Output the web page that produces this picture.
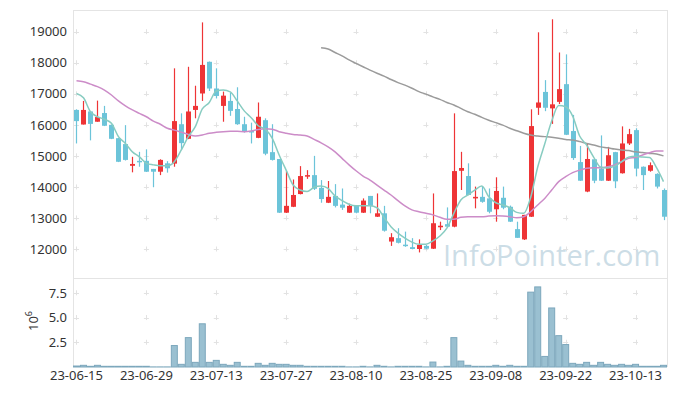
<!DOCTYPE html>
<html>
<head>
<meta charset="utf-8">
<script src="https://cdn.jsdelivr.net/npm/d3@7"></script>
<style>
	body { margin: 0; background: #fff; }
	svg { display: block; font-family: 'Noto Sans', sans-serif; }
</style>
</head>
<body>
<div id="chart"></div>
<script>
const dates = [
	'23-06-15', '23-06-16', '23-06-19', '23-06-20', '23-06-21', '23-06-22', '23-06-23', '23-06-26', '23-06-27', '23-06-28',
	'23-06-29', '23-06-30', '23-07-03', '23-07-04', '23-07-05', '23-07-06', '23-07-07', '23-07-10', '23-07-11', '23-07-12',
	'23-07-13', '23-07-14', '23-07-17', '23-07-18', '23-07-19', '23-07-20', '23-07-21', '23-07-24', '23-07-25', '23-07-26',
	'23-07-27', '23-07-28', '23-07-31', '23-08-01', '23-08-02', '23-08-03', '23-08-04', '23-08-07', '23-08-08', '23-08-09',
	'23-08-10', '23-08-11', '23-08-14', '23-08-16', '23-08-17', '23-08-18', '23-08-21', '23-08-22', '23-08-23', '23-08-24',
	'23-08-25', '23-08-28', '23-08-29', '23-08-30', '23-08-31', '23-09-01', '23-09-04', '23-09-05', '23-09-06', '23-09-07',
	'23-09-08', '23-09-11', '23-09-12', '23-09-13', '23-09-14', '23-09-15', '23-09-18', '23-09-19', '23-09-20', '23-09-21',
	'23-09-22', '23-09-25', '23-09-26', '23-09-27', '23-10-04', '23-10-05', '23-10-06', '23-10-10', '23-10-11', '23-10-12',
	'23-10-13', '23-10-16', '23-10-17', '23-10-18', '23-10-19'
]

const openPrices = [
	16480, 16010, 16430, 16100, 16380, 16000, 15570, 15380, 14680, 14840,
	14840, 14580, 14490, 14760, 14750, 16020, 15550, 16480, 17010, 18030,
	17170, 16610, 16770, 16510, 16020, 15800, 15580, 16150, 15120, 14900,
	13170, 13360, 13770, 14330, 14380, 13970, 13490, 13710, 13430, 13170,
	13390, 13170, 13710, 13040, 13150, 12240, 12350, 12140, 12060, 12000,
	12100, 12010, 12700, 12800, 12720, 14520, 14350, 13630, 13680, 13630,
	13280, 13650, 13360, 12640, 12310, 13040, 16550, 17060, 16530, 16740,
	17310, 15800, 14800, 13850, 14890, 14590, 14200, 15120, 14440, 15400,
	15830, 14650, 14520, 14420, 13900
]
const highPrices = [
	16500, 16770, 16450, 16780, 16610, 16010, 15580, 15990, 14970, 15130,
	15210, 14580, 14890, 14830, 17820, 16370, 17870, 17260, 19300, 18040,
	17820, 17070, 17030, 17210, 16260, 16070, 16720, 16210, 16020, 14900,
	14520, 14240, 14670, 14540, 15000, 14220, 14190, 14090, 13950, 13460,
	13400, 13630, 13710, 13790, 13390, 12510, 12670, 12560, 12350, 12310,
	12130, 13790, 12880, 13340, 16370, 15130, 14760, 14010, 14010, 13950,
	14310, 14010, 13400, 12880, 13100, 16500, 18980, 17440, 19400, 18330,
	18270, 16320, 15320, 15400, 14910, 15660, 15290, 15130, 15950, 15870,
	15890, 14660, 14790, 14440, 13950
]
const lowPrices = [
	15400, 16010, 15500, 16100, 15960, 15540, 14800, 14850, 14470, 14650,
	14480, 13990, 14380, 14460, 14650, 15190, 15540, 16210, 16770, 17090,
	16850, 16100, 16290, 16000, 15750, 15400, 15570, 15020, 14850, 13160,
	13160, 13350, 13760, 14260, 13900, 13490, 13480, 13340, 13260, 13160,
	13150, 13160, 13150, 13030, 12560, 12100, 12180, 12070, 11990, 11890,
	11990, 12000, 12610, 12700, 12700, 13900, 13730, 13310, 13490, 13150,
	12880, 13280, 12870, 12360, 12290, 13030, 16320, 16440, 16030, 16670,
	15670, 14870, 14190, 13830, 14120, 14190, 14190, 13960, 14430, 15350,
	14340, 13900, 14490, 13950, 12930
]
const closePrices = [
	16120, 16480, 16030, 16250, 15970, 15550, 14810, 14870, 14740, 14810,
	14490, 14490, 14870, 14600, 16120, 15410, 16430, 16610, 17930, 17170,
	16930, 16940, 16450, 16020, 15800, 15760, 16260, 15070, 14870, 13170,
	13390, 13740, 14350, 14380, 13940, 13610, 13680, 13390, 13330, 13390,
	13170, 13560, 13390, 13150, 12590, 12380, 12200, 12110, 12000, 12130,
	12010, 12830, 12750, 12720, 14510, 14610, 13740, 13680, 13520, 13200,
	13870, 13330, 12880, 12360, 13100, 15960, 16720, 16550, 16660, 17150,
	15680, 14930, 14200, 14900, 14200, 14200, 15020, 14180, 15400, 15700,
	14590, 14380, 14700, 14010, 13040
]
const volumes = [
	100000, 170000, 70000, 170000, 70000, 70000, 70000, 70000, 70000, 70000,
	70000, 10000, 10000, 10000, 2170000, 270000, 2970000, 470000, 4370000, 470000,
	670000, 270000, 170000, 470000, 70000, 70000, 370000, 170000, 370000, 270000,
	270000, 170000, 170000, 70000, 70000, 70000, 70000, 70000, 70000, 10000,
	10000, 70000, 10000, 170000, 70000, 10000, 70000, 70000, 70000, 70000,
	10000, 500000, 10000, 70000, 2970000, 600000, 170000, 70000, 70000, 70000,
	170000, 70000, 170000, 70000, 70000, 7570000, 8100000, 1070000, 5970000, 3170000,
	2270000, 370000, 270000, 470000, 170000, 470000, 270000, 170000, 270000, 170000,
	270000, 70000, 70000, 70000, 170000
]
const ma5 = [
	17010, 16870, 16420, 16260, 16180, 16050, 15620, 15400, 15130, 14970,
	14760, 14710, 14680, 14680, 14810, 15190, 15620, 15940, 16510, 16720,
	17090, 17120, 17060, 16770, 16450, 16230, 15970, 15860, 15570, 15030,
	14540, 14060, 13900, 13850, 13990, 14030, 13950, 13710, 13560, 13440,
	13390, 13390, 13390, 13330, 13020, 12720, 12510, 12350, 12220, 12150,
	12150, 12260, 12420, 12670, 13150, 13580, 13740, 13900, 14030, 13680,
	13490, 13420, 13330, 13180, 13150, 13670, 14640, 15380, 16120, 16620,
	16580, 16280, 15640, 15350, 14960, 14640, 14610, 14670, 14810, 14960,
	14990, 14960, 14950, 14620, 14170
]
const ma20 = [
	17420, 17390, 17310, 17230, 17120, 16960, 16770, 16610, 16480, 16370,
	16260, 16120, 16020, 15890, 15830, 15760, 15690, 15640, 15670, 15730,
	15760, 15780, 15790, 15790, 15780, 15800, 15850, 15870, 15860, 15780,
	15730, 15690, 15670, 15640, 15530, 15420, 15290, 15130, 14920, 14710,
	14520, 14350, 14220, 14060, 13900, 13740, 13560, 13390, 13260, 13200,
	13150, 13100, 13020, 12960, 12960, 13020, 13040, 13040, 13040, 13060,
	13070, 13060, 13040, 13010, 13040, 13200, 13420, 13630, 13900, 14170,
	14330, 14460, 14540, 14600, 14620, 14620, 14650, 14710, 14810, 14920,
	14950, 15030, 15100, 15160, 15160
]
const ma60 = [
	null, null, null, null, null, null, null, null, null, null,
	null, null, null, null, null, null, null, null, null, null,
	null, null, null, null, null, null, null, null, null, null,
	null, null, null, null, null, 18480, 18440, 18330, 18220, 18090,
	17980, 17870, 17760, 17660, 17570, 17460, 17360, 17280, 17180, 17070,
	16990, 16900, 16820, 16720, 16640, 16530, 16420, 16340, 16240, 16150,
	16070, 15990, 15890, 15810, 15730, 15670, 15640, 15620, 15600, 15570,
	15530, 15510, 15460, 15400, 15350, 15290, 15260, 15220, 15190, 15170,
	15130, 15110, 15080, 15060, 15000
]

const priceTicks = [12000, 13000, 14000, 15000, 16000, 17000, 18000, 19000]
const volumeTicks = [2500000, 5000000, 7500000]
const dateTickIndex = [0, 10, 20, 30, 40, 50, 60, 70, 80]

const width = 677
const height = 396
const left = 73
const right = 667
const priceTop = 10
const priceBottom = 278
const volumeBottom = 367

const candles = dates.map((d, i) => ({
	i: i,
	date: d,
	open: openPrices[i],
	high: highPrices[i],
	low: lowPrices[i],
	close: closePrices[i],
	volume: volumes[i]
}))

const x = d3
	.scaleBand()
	.domain(d3.range(dates.length))
	.range([left, right])
	.padding(0)

const y = d3
	.scaleLinear()
	.domain([11066, 19699])
	.range([priceBottom, priceTop])

const yVol = d3
	.scaleLinear()
	.domain([0, 9000000])
	.range([volumeBottom, priceBottom])

const cx = i => x(i) + x.bandwidth() / 2

const svg = d3
	.select('#chart')
	.append('svg')
	.attr('width', width)
	.attr('height', height)

// panel frames
svg.append('rect')
	.attr('x', left + 0.5)
	.attr('y', priceTop + 0.5)
	.attr('width', right - left)
	.attr('height', priceBottom - priceTop)
	.attr('fill', 'none')
	.attr('stroke', '#e4e4e4')

svg.append('path')
	.attr('d', `M${left + 0.5},${priceBottom}V${volumeBottom}M${right + 0.5},${priceBottom}V${volumeBottom}`)
	.attr('stroke', '#e4e4e4')
	.attr('fill', 'none')

// grid crosses
const crossGrid = (yScale, ticks) => {
	const pts = []
	dateTickIndex.forEach(i => ticks.forEach(t => pts.push([cx(i), yScale(t)])))
	svg.append('g')
		.selectAll('path')
		.data(pts)
		.enter()
		.append('path')
		.attr('d', d => `M${d[0] - 2.5},${Math.round(d[1]) + 0.5}h5M${Math.round(d[0]) + 0.5},${d[1] - 2.5}v5`)
		.attr('stroke', '#e2e2e2')
		.attr('fill', 'none')
}
crossGrid(y, priceTicks)
crossGrid(yVol, volumeTicks)

// watermark
svg.append('text')
	.attr('x', 443)
	.attr('y', 266)
	.attr('font-family', 'Open Sans, sans-serif')
	.attr('font-size', 29)
	.attr('fill', '#c3d7e2')
	.attr('fill-opacity', 0.85)
	.text('InfoPointer.com')

// moving averages
const maLine = d3
	.line()
	.defined(d => d != null)
	.x((d, i) => cx(i))
	.y(d => y(d))
	.curve(d3.curveMonotoneX)

const maSeries = [
	{ values: ma60, color: '#9b9b9b' },
	{ values: ma20, color: '#cc8cc8' },
	{ values: ma5, color: '#88ccc1' }
]

// candles
const up = '#ee3436'
const down = '#6cc4d9'
const bodyW = 5

const candle = svg.append('g')
	.selectAll('g')
	.data(candles)
	.enter()
	.append('g')

candle.append('line')
	.attr('x1', d => Math.round(cx(d.i)) + 0.5)
	.attr('x2', d => Math.round(cx(d.i)) + 0.5)
	.attr('y1', d => y(d.high))
	.attr('y2', d => y(d.low))
	.attr('stroke', d => (d.close >= d.open ? up : down))
	.attr('stroke-width', 1.2)

candle.append('rect')
	.attr('x', d => Math.round(cx(d.i)) + 0.5 - bodyW / 2)
	.attr('width', bodyW)
	.attr('y', d => y(Math.max(d.open, d.close)))
	.attr('height', d => Math.max(1.5, Math.abs(y(d.open) - y(d.close))))
	.attr('fill', d => (d.close >= d.open ? up : down))

maSeries.forEach(s => {
	svg.append('path')
		.datum(s.values)
		.attr('d', maLine)
		.attr('fill', 'none')
		.attr('stroke', s.color)
		.attr('stroke-width', 1.5)
})

// volume bars
svg.append('g')
	.selectAll('rect')
	.data(candles)
	.enter()
	.append('rect')
	.attr('x', d => x(d.i) + 0.5)
	.attr('width', x.bandwidth() - 1)
	.attr('y', d => yVol(d.volume))
	.attr('height', d => volumeBottom - yVol(d.volume))
	.attr('fill', '#9ac0d1')
	.attr('stroke', '#7ca7bc')
	.attr('stroke-width', 1)

// axes
const styleAxis = g => {
	g.select('.domain').remove()
	g.selectAll('line').remove()
	g.selectAll('text')
		.attr('fill', '#333')
		.attr('font-size', 13)
		.attr('font-family', 'Noto Sans, sans-serif')
}

svg.append('g')
	.attr('transform', `translate(${left},0)`)
	.call(
		d3
			.axisLeft(y)
			.tickValues(priceTicks)
			.tickSize(0)
			.tickPadding(6)
			.tickFormat(d3.format('d'))
	)
	.call(styleAxis)

svg.append('g')
	.attr('transform', `translate(${left},0)`)
	.call(
		d3
			.axisLeft(yVol)
			.tickValues(volumeTicks)
			.tickSize(0)
			.tickPadding(6)
			.tickFormat(d => d3.format('.1f')(d / 1e6))
	)
	.call(styleAxis)

svg.append('g')
	.attr('transform', `translate(0,${volumeBottom})`)
	.call(
		d3
			.axisBottom(x)
			.tickValues(dateTickIndex)
			.tickSize(0)
			.tickPadding(4)
			.tickFormat(i => dates[i])
	)
	.call(styleAxis)

const expo = svg.append('text')
	.attr('transform', 'translate(38,321) rotate(-90)')
	.attr('text-anchor', 'middle')
	.attr('font-size', 13)
	.attr('fill', '#333')
expo.append('tspan').text('10')
expo.append('tspan')
	.attr('dy', -6)
	.attr('font-size', 9)
	.text('6')
</script>
</body>
</html>
